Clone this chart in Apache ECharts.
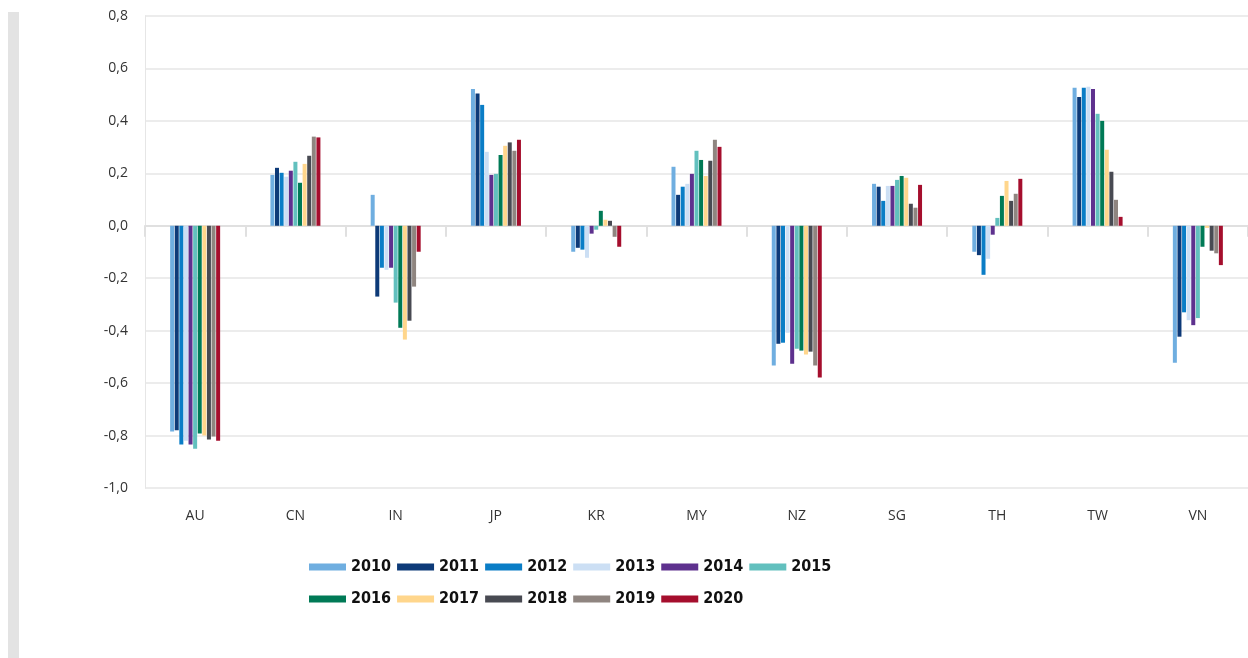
<!DOCTYPE html>
<html>
<head>
<meta charset="utf-8">
<script src="https://cdn.jsdelivr.net/npm/echarts@6/dist/echarts.min.js"></script>
<style>
  html, body { margin: 0; padding: 0; background: #fff; }
  #chart { width: 1248px; height: 658px; }
</style>
</head>
<body>
<div id="chart"></div>
<script>
// Länder (x-Achse)
const countries = ['AU', 'CN', 'IN', 'JP', 'KR', 'MY', 'NZ', 'SG', 'TH', 'TW', 'VN']
const years = ['2010', '2011', '2012', '2013', '2014', '2015', '2016', '2017', '2018', '2019', '2020']
const colors = ['#6FAEE0', '#0D3A78', '#0A7DC6', '#CCDFF4', '#5E318E', '#62C0BE',
  '#007A56', '#FFD68C', '#484A52', '#8F8580', '#A50E2D']

// Werte je Jahr, Reihenfolge wie countries
const v2010 = [-0.785, 0.194, 0.118, 0.522, -0.099, 0.225, -0.533, 0.160, -0.099, 0.526, -0.522]
const v2011 = [-0.780, 0.221, -0.270, 0.504, -0.084, 0.118, -0.450, 0.149, -0.112, 0.491, -0.423]
const v2012 = [-0.834, 0.202, -0.160, 0.461, -0.091, 0.149, -0.446, 0.095, -0.187, 0.526, -0.330]
const v2013 = [-0.820, 0.187, -0.168, 0.282, -0.122, 0.160, -0.408, 0.152, -0.126, 0.530, -0.360]
const v2014 = [-0.834, 0.210, -0.160, 0.194, -0.030, 0.198, -0.526, 0.152, -0.034, 0.522, -0.379]
const v2015 = [-0.850, 0.244, -0.293, 0.198, -0.015, 0.286, -0.469, 0.175, 0.030, 0.427, -0.352]
const v2016 = [-0.792, 0.164, -0.389, 0.270, 0.057, 0.251, -0.476, 0.190, 0.114, 0.400, -0.080]
const v2017 = [-0.800, 0.236, -0.434, 0.305, 0.023, 0.190, -0.491, 0.183, 0.171, 0.290, -0.008]
const v2018 = [-0.815, 0.267, -0.362, 0.318, 0.019, 0.248, -0.480, 0.084, 0.095, 0.206, -0.095]
const v2019 = [-0.804, 0.340, -0.232, 0.286, -0.042, 0.328, -0.533, 0.069, 0.122, 0.099, -0.105]
const v2020 = [-0.820, 0.337, -0.099, 0.328, -0.080, 0.301, -0.579, 0.156, 0.179, 0.034, -0.150]
const values = [v2010, v2011, v2012, v2013, v2014, v2015, v2016, v2017, v2018, v2019, v2020]

const chart = echarts.init(document.getElementById('chart'))

let series = []
years.forEach((y, i) => {
  series.push({
    name: y,
    type: 'bar',
    barWidth: 4,
    barGap: '15%',
    itemStyle: { color: colors[i] },
    data: values[i]
  })
})

const legendText = {
  fontFamily: 'DejaVu Sans Condensed',
  fontWeight: 'bold',
  fontSize: 16,
  color: '#111'
}

let options = {
  animation: false,
  color: colors,
  graphic: [{
    type: 'rect',
    shape: { x: 8, y: 12, width: 11, height: 646 },
    style: { fill: '#E3E3E3' },
    silent: true
  }],
  legend: [{
    left: 309,
    top: 559,
    padding: 0,
    icon: 'rect',
    itemWidth: 37,
    itemHeight: 7,
    itemGap: 6,
    textStyle: legendText,
    data: years.slice(0, 6)
  }, {
    left: 309,
    top: 591,
    padding: 0,
    icon: 'rect',
    itemWidth: 37,
    itemHeight: 7,
    itemGap: 6,
    textStyle: legendText,
    data: years.slice(6)
  }],
  grid: {
    left: 145,
    top: 16,
    width: 1105,
    bottom: 170
  },
  xAxis: [{
    type: 'category',
    data: countries,
    axisLine: { onZero: true, lineStyle: { color: '#E0E0E0', width: 2 } },
    axisTick: { show: true, length: 11, lineStyle: { color: '#E0E0E0', width: 2 } },
    axisLabel: { show: false }
  }, {
    type: 'category',
    data: countries,
    position: 'bottom',
    axisLine: { show: false, onZero: false },
    axisTick: { show: false },
    axisLabel: {
      margin: 21,
      fontFamily: 'Open Sans',
      fontSize: 14,
      color: '#333'
    }
  }],
  yAxis: {
    type: 'value',
    min: -1,
    max: 0.8,
    interval: 0.2,
    axisLine: { show: true, lineStyle: { color: '#E6E6E6', width: 1 } },
    axisTick: { show: false },
    splitLine: { show: true, lineStyle: { color: '#E6E6E6', width: 1.5 } },
    axisLabel: {
      margin: 17,
      fontFamily: 'Open Sans',
      fontSize: 14,
      color: '#333',
      formatter: function (v) {
        if (Math.abs(v) < 1e-9) return '0,0'
        return v.toFixed(1).replace('.', ',')
      }
    }
  },
  series: series
}
chart.setOption(options)
</script>
</body>
</html>
